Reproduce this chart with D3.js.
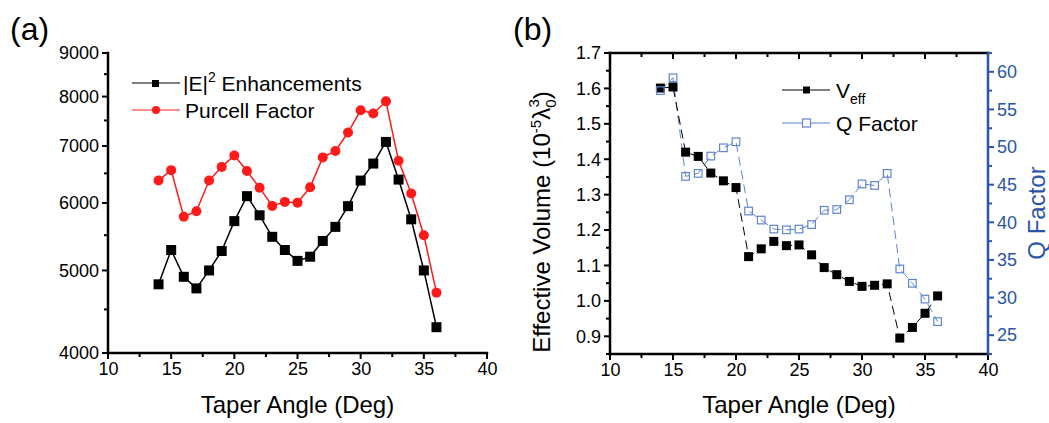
<!DOCTYPE html>
<html>
<head>
<meta charset="utf-8">
<script src="https://cdn.jsdelivr.net/npm/d3@7"></script>
<style>
  html, body { margin: 0; padding: 0; background: #fff; }
  svg { display: block; font-family: "Liberation Sans", Arial, sans-serif; }
</style>
</head>
<body>
<svg id="chart" width="1049" height="423"></svg>
<script>
// Taper angle (degrees) shared by both panels
const angles = [14, 15, 16, 17, 18, 19, 20, 21, 22, 23, 24, 25, 26, 27, 28, 29, 30, 31, 32, 33, 34, 35, 36];

// Panel (a): field enhancement and Purcell factor
const enhancement = [4816, 5284, 4915, 4763, 5000, 5270, 5713, 6112, 5804, 5476, 5284, 5131, 5189, 5415, 5625, 5949, 6375, 6675, 7077, 6392, 5741, 5000, 4289];
const purcell = [6375, 6557, 5781, 5867, 6375, 6615, 6823, 6541, 6251, 5953, 6018, 6005, 6260, 6787, 6905, 7259, 7711, 7643, 7897, 6725, 6156, 5500, 4709];

// Panel (b): effective mode volume and quality factor
const veff = [1.601, 1.604, 1.420, 1.408, 1.361, 1.339, 1.320, 1.125, 1.147, 1.168, 1.156, 1.158, 1.130, 1.094, 1.074, 1.055, 1.041, 1.044, 1.048, 0.895, 0.925, 0.965, 1.014];
const qFactor = [57.5, 59.2, 46.1, 46.5, 48.8, 49.9, 50.7, 41.5, 40.3, 39.1, 39.0, 39.1, 39.7, 41.6, 41.7, 43.0, 45.1, 44.9, 46.5, 33.8, 31.9, 29.8, 26.8];

// Tick labels
const xTicks = [10, 15, 20, 25, 30, 35, 40];
const xMinor = [12.5, 17.5, 22.5, 27.5, 32.5, 37.5];
const yTicksA = [4000, 5000, 6000, 7000, 8000, 9000];
const yMinorA = [4500, 5500, 6500, 7500, 8500];
const yTicksB = [0.9, 1.0, 1.1, 1.2, 1.3, 1.4, 1.5, 1.6, 1.7];
const yMinorB = [0.85, 0.95, 1.05, 1.15, 1.25, 1.35, 1.45, 1.55, 1.65];
const qTicks = [25, 30, 35, 40, 45, 50, 55, 60];
const qMinor = [22.5, 27.5, 32.5, 37.5, 42.5, 47.5, 52.5, 57.5, 62.5];

const svg = d3.select("#chart");
const FONT = "Liberation Sans, Arial, sans-serif";
const FONT_TICK = 18, FONT_TITLE = 24, FONT_LEG = 21;
const RED = "#ff1a1a", BLUE_AXIS = "#2a55a8", BLUE_MARK = "#5f84d2";
const AXW = 2.5; // axis line thickness

// Labels come from d3's axis generator; the axis line and tick marks are solid bars
function drawAxis(orient, scale, pos, ticks, minor, color, fmt) {
  const gen = { bottom: d3.axisBottom, top: d3.axisTop, left: d3.axisLeft, right: d3.axisRight }[orient](scale)
    .tickValues(ticks).tickSize(0).tickPadding(fmt ? 9 : 0).tickFormat(fmt || "");
  const horiz = orient === "bottom" || orient === "top";
  const g = svg.append("g").attr("transform", horiz ? `translate(0,${pos})` : `translate(${pos},0)`);
  g.call(gen);
  g.select(".domain").remove();
  g.selectAll(".tick text").attr("fill", color).attr("font-size", FONT_TICK).attr("font-family", FONT);

  const [r0, r1] = scale.range();
  const lo = Math.min(r0, r1), hi = Math.max(r0, r1);
  const frame = svg.append("g").attr("class", "frame");
  // axis bar
  if (horiz) {
    frame.append("rect").attr("x", lo - AXW / 2).attr("y", pos - AXW / 2).attr("width", hi - lo + AXW).attr("height", AXW).attr("fill", color);
  } else {
    frame.append("rect").attr("x", pos - AXW / 2).attr("y", lo - AXW / 2).attr("width", AXW).attr("height", hi - lo + AXW).attr("fill", color);
  }
  // ticks: direction +1 = down/right, -1 = up/left
  const dir = { bottom: 1, top: 1, left: -1, right: 1 }[orient];
  const tickBars = (vals, len) => vals.forEach(v => {
    const p = scale(v);
    if (horiz) {
      frame.append("rect").attr("x", p - 1).attr("y", dir > 0 ? pos : pos - len).attr("width", 2).attr("height", len).attr("fill", color);
    } else {
      frame.append("rect").attr("y", p - 1).attr("x", dir > 0 ? pos : pos - len).attr("height", 2).attr("width", len).attr("fill", color);
    }
  });
  tickBars(ticks, 6);
  tickBars(minor, 4);
}

/* ---------------- Panel (a) ---------------- */
const xA = d3.scaleLinear().domain([10, 40]).range([108, 487]);
const yA = d3.scaleLog().domain([4000, 9000]).range([353, 53]);

drawAxis("bottom", xA, yA(4000), xTicks, xMinor, "#000", d3.format("d"));
drawAxis("left", yA, xA(10), yTicksA, yMinorA, "#000", d3.format("d"));

const lineA = (vals) => d3.line().x((d, i) => xA(angles[i])).y(d => yA(d))(vals);

svg.append("path").attr("d", lineA(purcell)).attr("fill", "none").attr("stroke", RED).attr("stroke-width", 1.5);
svg.append("path").attr("d", lineA(enhancement)).attr("fill", "none").attr("stroke", "#000").attr("stroke-width", 1.5);

svg.append("g").selectAll("circle").data(purcell).join("circle")
  .attr("cx", (d, i) => xA(angles[i])).attr("cy", d => yA(d)).attr("r", 5).attr("fill", RED);
svg.append("g").selectAll("rect").data(enhancement).join("rect")
  .attr("x", (d, i) => xA(angles[i]) - 5).attr("y", d => yA(d) - 5)
  .attr("width", 10).attr("height", 10).attr("fill", "#000");

// legend (a)
const legA = svg.append("g");
legA.append("line").attr("x1", 132).attr("x2", 180).attr("y1", 83).attr("y2", 83).attr("stroke", "#000").attr("stroke-width", 1);
legA.append("rect").attr("x", 152).attr("y", 80).attr("width", 7).attr("height", 7).attr("fill", "#000");
legA.append("line").attr("x1", 132).attr("x2", 180).attr("y1", 110).attr("y2", 110).attr("stroke", RED).attr("stroke-width", 1);
legA.append("circle").attr("cx", 156).attr("cy", 110).attr("r", 4).attr("fill", RED);
const tE = legA.append("text").attr("x", 183).attr("y", 91).attr("font-size", FONT_LEG).attr("font-family", FONT).attr("fill", "#000");
tE.append("tspan").text("|E|");
tE.append("tspan").attr("dy", -9).attr("font-size", 14).text("2");
tE.append("tspan").attr("dy", 9).text(" Enhancements");
legA.append("text").attr("x", 185).attr("y", 118).attr("font-size", FONT_LEG).attr("font-family", FONT).attr("fill", "#000").text("Purcell Factor");

svg.append("text").attr("x", xA(25)).attr("y", 413).attr("text-anchor", "middle")
  .attr("font-size", FONT_TITLE).attr("font-family", FONT).text("Taper Angle (Deg)");
svg.append("text").attr("x", 10).attr("y", 40).attr("font-size", 32).attr("font-family", FONT).text("(a)");

/* ---------------- Panel (b) ---------------- */
const xB = d3.scaleLinear().domain([10, 40]).range([610, 988]);
const yB = d3.scaleLinear().domain([0.85, 1.7]).range([354, 53]);
const yQ = d3.scaleLinear().domain([22.5, 62.5]).range([354, 53]);

drawAxis("bottom", xB, yB(0.85), xTicks, xMinor, "#000", d3.format("d"));
drawAxis("top", xB, yB(1.7), xTicks, xMinor, "#000", null);   // top frame, ticks pointing inward
drawAxis("left", yB, xB(10), yTicksB, yMinorB, "#000", d3.format(".1f"));
drawAxis("right", yQ, xB(40), qTicks, qMinor, BLUE_AXIS, d3.format("d"));

// series lines
svg.append("path")
  .attr("d", d3.line().x((d, i) => xB(angles[i])).y(d => yQ(d))(qFactor))
  .attr("fill", "none").attr("stroke", BLUE_MARK).attr("stroke-width", 1).attr("stroke-dasharray", "9,5");
svg.append("path")
  .attr("d", d3.line().x((d, i) => xB(angles[i])).y(d => yB(d))(veff))
  .attr("fill", "none").attr("stroke", "#000").attr("stroke-width", 1).attr("stroke-dasharray", "9,5");

// markers
svg.append("g").selectAll("rect").data(veff).join("rect")
  .attr("x", (d, i) => xB(angles[i]) - 4.5).attr("y", d => yB(d) - 4.5)
  .attr("width", 9).attr("height", 9).attr("fill", "#000");
svg.append("g").selectAll("rect").data(qFactor).join("rect")
  .attr("x", (d, i) => xB(angles[i]) - 3.8).attr("y", d => yQ(d) - 3.8)
  .attr("width", 7.6).attr("height", 7.6).attr("fill", "none").attr("stroke", BLUE_MARK).attr("stroke-width", 1.2);

// legend (b)
const legB = svg.append("g");
legB.append("line").attr("x1", 782).attr("x2", 830).attr("y1", 90).attr("y2", 90).attr("stroke", "#000").attr("stroke-width", 1);
legB.append("rect").attr("x", 803).attr("y", 86.5).attr("width", 7).attr("height", 7).attr("fill", "#000");
legB.append("line").attr("x1", 782).attr("x2", 830).attr("y1", 123).attr("y2", 123).attr("stroke", BLUE_MARK).attr("stroke-width", 1);
legB.append("rect").attr("x", 802.5).attr("y", 119).attr("width", 8).attr("height", 8).attr("fill", "#fff").attr("stroke", BLUE_MARK).attr("stroke-width", 1.2);
const tV = legB.append("text").attr("x", 836).attr("y", 98).attr("font-size", FONT_LEG).attr("font-family", FONT).attr("fill", "#000");
tV.append("tspan").text("V");
tV.append("tspan").attr("dy", 6).attr("font-size", 14).text("eff");
legB.append("text").attr("x", 836).attr("y", 131).attr("font-size", FONT_LEG).attr("font-family", FONT).attr("fill", "#000").text("Q Factor");

// axis titles
svg.append("text").attr("x", xB(25)).attr("y", 413).attr("text-anchor", "middle")
  .attr("font-size", FONT_TITLE).attr("font-family", FONT).text("Taper Angle (Deg)");

const tY = svg.append("text").attr("transform", "translate(550,222) rotate(-90)")
  .attr("text-anchor", "middle").attr("font-size", FONT_TITLE).attr("font-family", FONT).attr("fill", "#000");
tY.append("tspan").text("Effective Volume (10");
tY.append("tspan").attr("dy", -9).attr("font-size", 15).text("-5");
tY.append("tspan").attr("dy", 9).text("λ");
tY.append("tspan").attr("dy", 6).attr("font-size", 15).text("0");
tY.append("tspan").attr("dx", -8).attr("dy", -17).attr("font-size", 15).text("3");
tY.append("tspan").attr("dy", 11).text(")");

svg.append("text").attr("transform", "translate(1045,213) rotate(-90)")
  .attr("text-anchor", "middle").attr("font-size", FONT_TITLE).attr("font-family", FONT).attr("fill", BLUE_AXIS).text("Q Factor");

svg.append("text").attr("x", 513).attr("y", 40).attr("font-size", 32).attr("font-family", FONT).text("(b)");
</script>
</body>
</html>
